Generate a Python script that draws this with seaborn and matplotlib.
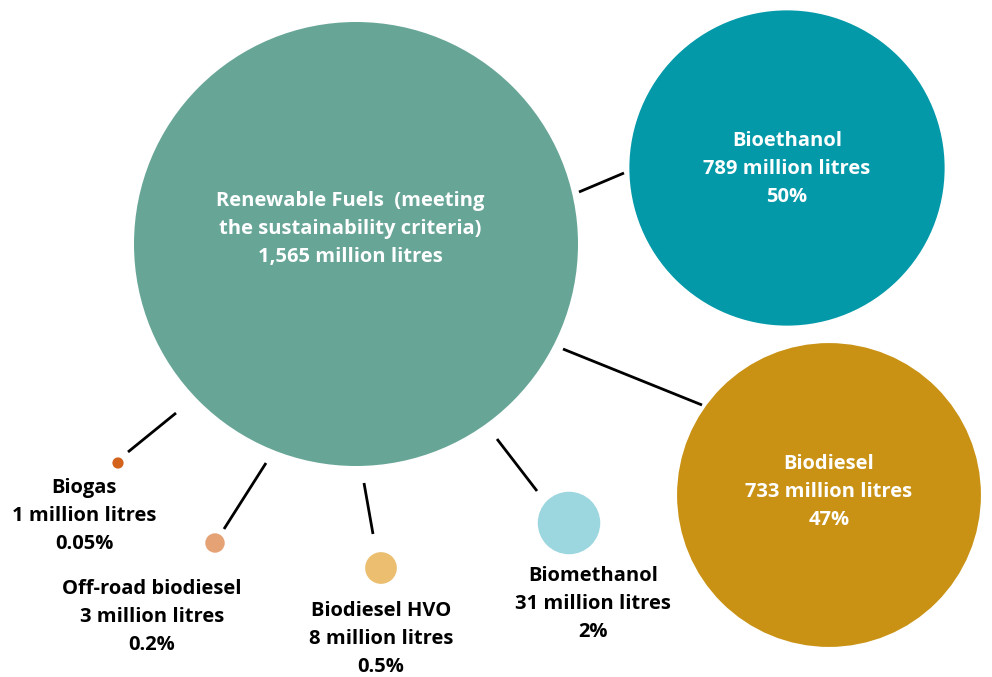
import matplotlib
matplotlib.use("Agg")
import matplotlib.pyplot as plt
import seaborn as sns
import pandas as pd
import numpy as np

# ---- data ----
categories = ["Renewable Fuels  (meeting\nthe sustainability criteria)", "Bioethanol", "Biodiesel",
              "Biomethanol", "Biodiesel HVO", "Off-road biodiesel", "Biogas"]
volumes = [1565, 789, 733, 31, 8, 3, 1]          # million litres
shares = ["", "50%", "47%", "2%", "0.5%", "0.2%", "0.05%"]
volume_labels = ["1,565 million litres", "789 million litres", "733 million litres",
                 "31 million litres", "8 million litres", "3 million litres", "1 million litres"]

# ---- layout (pixel-like coordinates) ----
centers_x = [356, 787, 829, 569, 381, 215, 118]
centers_y = [244, 168, 495, 523, 568, 543, 463]
colors = ["#67A596", "#0399A9", "#C99214", "#9CD6DF", "#EBBF6F", "#E5A275", "#D2621C"]
label_x = [350, 787, 829, 593, 381, 152, 84]
label_y = [229, 169, 492, 604, 639, 617, 516]
label_color = ["white", "white", "white", "black", "black", "black", "black"]
connectors = [((579, 192), (624, 173)), ((563, 349), (702, 405)),
              ((128, 452), (176, 413)), ((224, 529), (266, 463)),
              ((364, 483), (373, 534)), ((497, 439), (537, 491))]

W, H, DPI = 992, 677, 100
sns.set_theme(style="white")
plt.rcParams["font.family"] = ["Open Sans", "DejaVu Sans"]

fig = plt.figure(figsize=(W / DPI, H / DPI), dpi=DPI)
ax = fig.add_axes([0, 0, 1, 1])

df = pd.DataFrame({"cat": categories, "vol": volumes, "x": centers_x, "y": centers_y})

# area proportional to volume; largest circle radius ~222 px
r_max_px = 222
pt_per_px = 72 / DPI
s_max = (2 * r_max_px * pt_per_px) ** 2
sns.scatterplot(data=df, x="x", y="y", hue="cat", palette=colors, size="vol",
                sizes=(0, s_max), size_norm=(0, max(volumes)), linewidth=0,
                legend=False, ax=ax, zorder=2)

for (x0, y0), (x1, y1) in connectors:
    ax.plot([x0, x1], [y0, y1], color="black", lw=2.0, zorder=1, solid_capstyle="butt")

for i, cat in enumerate(categories):
    lines = [cat, volume_labels[i]]
    if shares[i]:
        lines.append(shares[i])
    ax.text(label_x[i], label_y[i], "\n".join(lines),
            ha="center", va="center", fontsize=14.5, fontweight="bold",
            color=label_color[i], linespacing=1.56, multialignment="center", zorder=3)

ax.set_xlim(0, W)
ax.set_ylim(H, 0)
ax.set_axis_off()
fig.savefig("out.png", dpi=DPI)
